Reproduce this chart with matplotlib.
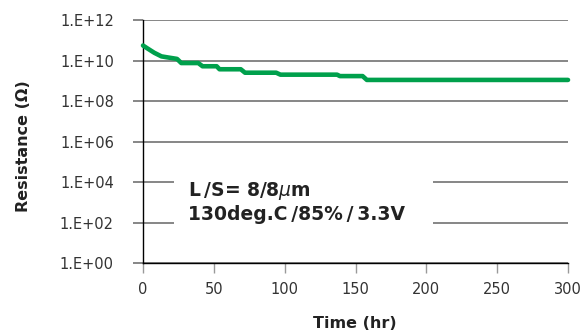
import matplotlib
matplotlib.use("Agg")
import matplotlib.pyplot as plt
from matplotlib.patches import Rectangle

# data
time_hr = [0, 3, 8, 13, 18, 24, 27, 39, 42, 52, 54, 69, 72, 94, 97, 137, 139, 155, 158, 300]
resistance = [5.5e10, 4.0e10, 2.4e10, 1.6e10, 1.4e10, 1.2e10, 7.5e9, 7.5e9, 5.2e9, 5.2e9,
              3.7e9, 3.7e9, 2.5e9, 2.5e9, 2.0e9, 2.0e9, 1.7e9, 1.7e9, 1.1e9, 1.1e9]
x_ticks = [0, 50, 100, 150, 200, 250, 300]
y_ticks = [1e0, 1e2, 1e4, 1e6, 1e8, 1e10, 1e12]
y_labels = ["1.E+00", "1.E+02", "1.E+04", "1.E+06", "1.E+08", "1.E+10", "1.E+12"]
note = "L\u2009/S= 8/8$\\mu$m\n130deg.C\u2009/85%\u2009/\u20093.3V"

green = "#00a04c"
grid_col = "#666666"

plt.rcParams["font.family"] = ["DejaVu Sans"]

fig = plt.figure(figsize=(5.84, 3.33), dpi=100)
ax = fig.add_axes([0.2449, 0.2102, 0.7277, 0.7297])

ax.plot(time_hr, resistance, color=green, lw=3.3, solid_capstyle="round",
        solid_joinstyle="round", zorder=3, clip_on=False)

ax.set_yscale("log")
ax.set_ylim(1e0, 1e12)
ax.set_xlim(0, 300)
ax.set_xticks(x_ticks)
ax.set_yticks(y_ticks)
ax.set_yticklabels(y_labels)
ax.minorticks_off()

ax.grid(axis="y", color=grid_col, lw=1.1)
ax.tick_params(axis="y", direction="out", length=7, width=1.1, color=grid_col,
               pad=14, labelsize=10.5, labelcolor="#333333")
ax.tick_params(axis="x", direction="out", length=7, width=1.0, color="#999999",
               pad=7, labelsize=10.5, labelcolor="#333333")

for s in ["top", "right"]:
    ax.spines[s].set_visible(False)
for s in ["left", "bottom"]:
    ax.spines[s].set_color("black")
    ax.spines[s].set_linewidth(1.0)

# white box behind the note, hides the grid lines
ax.add_patch(Rectangle((0.073, 0.115), 0.609, 0.27, transform=ax.transAxes,
                       facecolor="white", edgecolor="none", zorder=2))
ax.text(0.106, 0.34, note, transform=ax.transAxes, ha="left", va="top",
        fontsize=13.5, fontweight="bold", color="#222222", linespacing=1.15, zorder=4)

fig.text(0.608, 0.03, "Time (hr)", ha="center", va="center",
         fontsize=11.5, fontweight="bold", color="#222222")
fig.text(0.04, 0.56, "Resistance (Ω)", ha="center", va="center", rotation=90,
         fontsize=11.5, fontweight="bold", color="#222222")

fig.savefig("out.png", dpi=100, facecolor="white")
